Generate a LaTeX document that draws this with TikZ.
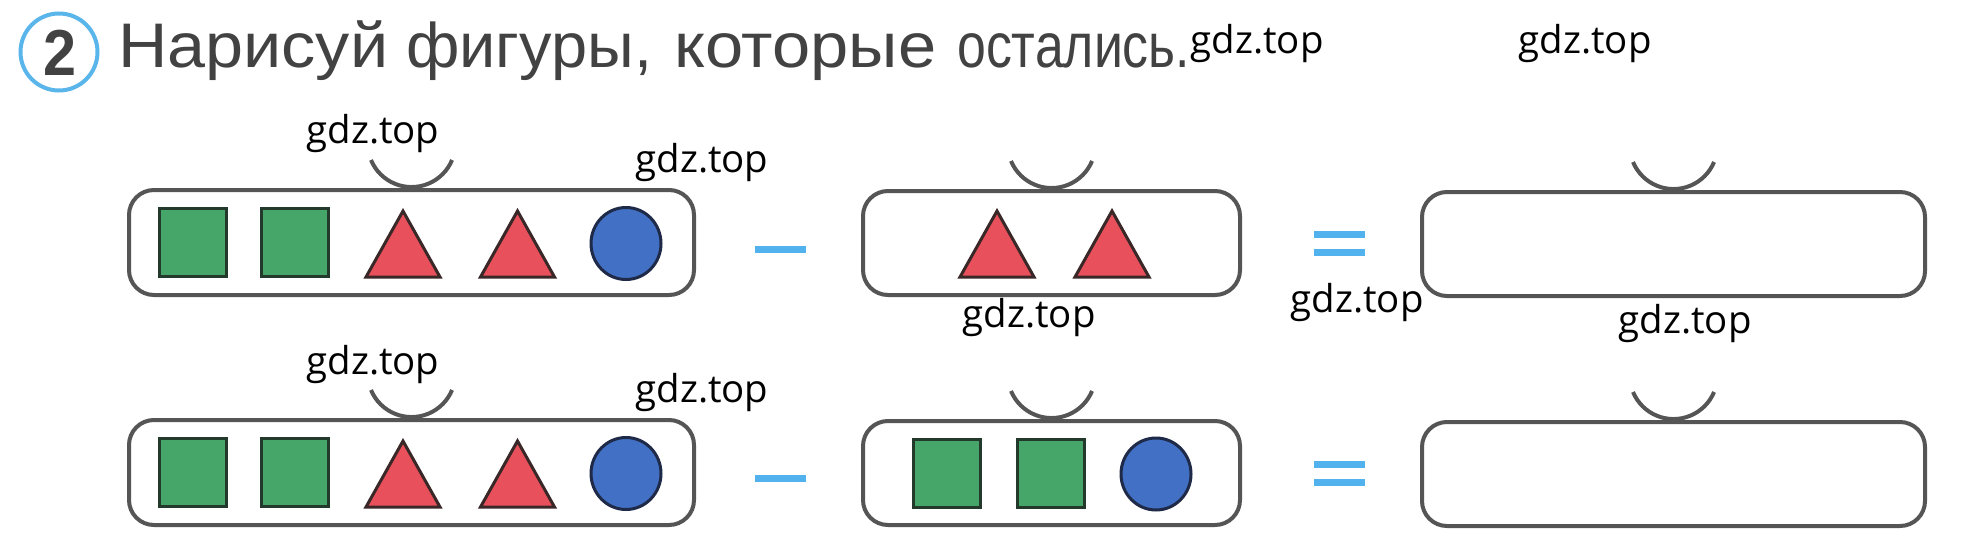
\documentclass[tikz,border=0pt]{standalone}
\usepackage{fontspec}
\setmainfont{Liberation Sans}
\newfontfamily\wmfont{Open Sans}
\usetikzlibrary{shapes.geometric,calc}
\definecolor{sqgreen}{HTML}{46A569}
\definecolor{sqedge}{HTML}{22392B}
\definecolor{trired}{HTML}{E8505B}
\definecolor{triedge}{HTML}{3A2727}
\definecolor{blobblue}{HTML}{4170C4}
\definecolor{blobedge}{HTML}{1E2A48}
\definecolor{signblue}{HTML}{52B2EE}
\definecolor{ringblue}{HTML}{5AB6EA}
\definecolor{boxgray}{HTML}{555555}
\definecolor{titlegray}{HTML}{424242}
\newcommand\gdzmark{\resizebox{133pt}{!}{\wmfont\fontsize{38pt}{38pt}\selectfont gdz.top}}
\newcommand\tword[2]{\resizebox{#1}{\height}{\fontsize{63pt}{63pt}\selectfont #2}}
\tikzset{
  slot/.style={draw=boxgray, line width=4pt, rounded corners=25pt, inner sep=0pt, outer sep=0pt, fill=white},
  sqshape/.style={draw=sqedge, fill=sqgreen, line width=3pt, inner sep=0pt, minimum width=67pt, minimum height=68pt},
  blob/.style={ellipse, draw=blobedge, fill=blobblue, line width=3pt, inner sep=0pt, minimum width=70pt, minimum height=72pt},
  signbar/.style={fill=signblue, inner sep=0pt, minimum width=51pt, minimum height=7pt},
  wm/.style={anchor=base, inner sep=0pt, text=black},
  titleword/.style={anchor=base west, inner sep=0pt, text=titlegray},
  cuparc/.style={draw=boxgray, line width=4pt},
  tri/.pic={\draw[draw=triedge, fill=trired, line width=3pt] (-37,33) -- (0,-33) -- (37,33) -- cycle;}
}
\newcommand\cupon[1]{\draw[cuparc] ($(#1.north)+(-40.5,-30)$) arc[start angle=202.6, end angle=337.4, radius=43.9pt];}
\begin{document}
\begin{tikzpicture}[x=1pt,y=-1pt]
\fill[white] (0,0) rectangle (1978,554);
\useasboundingbox (0,0) rectangle (1978,554);

% header
\node[circle, draw=ringblue, line width=4pt, minimum size=77pt, inner sep=0pt] (ring) at (59,52) {};
\node[anchor=base, inner sep=0pt, text=titlegray, font=\bfseries\fontsize{65pt}{65pt}\selectfont] (num) at (59.5,75) {\resizebox{33pt}{\height}{2}};
\node[titleword] (tw1) at (118,67) {\tword{270pt}{Нарисуй}};
\node[titleword] (tw2) at (406,67) {\tword{246pt}{фигуры,}};
\node[titleword] (tw3) at (674,67) {\tword{262pt}{которые}};
\node[titleword] (tw4) at (957,67) {\tword{233pt}{остались.}};

% row 1
\node[slot, minimum width=565pt, minimum height=105pt] (a1) at (411.5,242.5) {};
\node[slot, minimum width=377pt, minimum height=104pt] (b1) at (1051.5,243) {};
\node[slot, minimum width=503pt, minimum height=104pt] (c1) at (1673.5,244) {};
\cupon{a1}\cupon{b1}\cupon{c1}
\node[sqshape] (a1s1) at (192.5,242.5) {};
\node[sqshape] (a1s2) at (294.5,242.5) {};
\pic (a1t1) at (403,244) {tri};
\pic (a1t2) at (517.5,244) {tri};
\node[blob] (a1c) at (626,243.5) {};
\pic (b1t1) at (997,244) {tri};
\pic (b1t2) at (1112,244) {tri};
\node[signbar] (minus1) at (780,249.5) {};
\node[signbar] (eqa1) at (1339.5,234.5) {};
\node[signbar] (eqb1) at (1339.5,252) {};

% row 2
\node[slot, minimum width=565pt, minimum height=105pt] (a2) at (411.5,472.5) {};
\node[slot, minimum width=377pt, minimum height=104pt] (b2) at (1051.5,473) {};
\node[slot, minimum width=503pt, minimum height=104pt] (c2) at (1673.5,474) {};
\cupon{a2}\cupon{b2}\cupon{c2}
\node[sqshape] (a2s1) at (192.5,472.5) {};
\node[sqshape] (a2s2) at (294.5,472.5) {};
\pic (a2t1) at (403,474) {tri};
\pic (a2t2) at (517.5,474) {tri};
\node[blob] (a2c) at (626,473.5) {};
\node[sqshape] (b2s1) at (946.5,473) {};
\node[sqshape] (b2s2) at (1051,473) {};
\node[blob] (b2c) at (1156,474) {};
\node[signbar] (minus2) at (780,478.5) {};
\node[signbar] (eqa2) at (1339.5,464) {};
\node[signbar] (eqb2) at (1339.5,482) {};

% watermarks
\node[wm] (w1) at (1257,53) {\gdzmark};
\node[wm] (w2) at (1585,53) {\gdzmark};
\node[wm] (w3) at (373,143) {\gdzmark};
\node[wm] (w4) at (702,172) {\gdzmark};
\node[wm] (w5) at (1029,327) {\gdzmark};
\node[wm] (w6) at (1357,312) {\gdzmark};
\node[wm] (w7) at (1685,333) {\gdzmark};
\node[wm] (w8) at (373,374) {\gdzmark};
\node[wm] (w9) at (702,402) {\gdzmark};
\end{tikzpicture}
\end{document}
